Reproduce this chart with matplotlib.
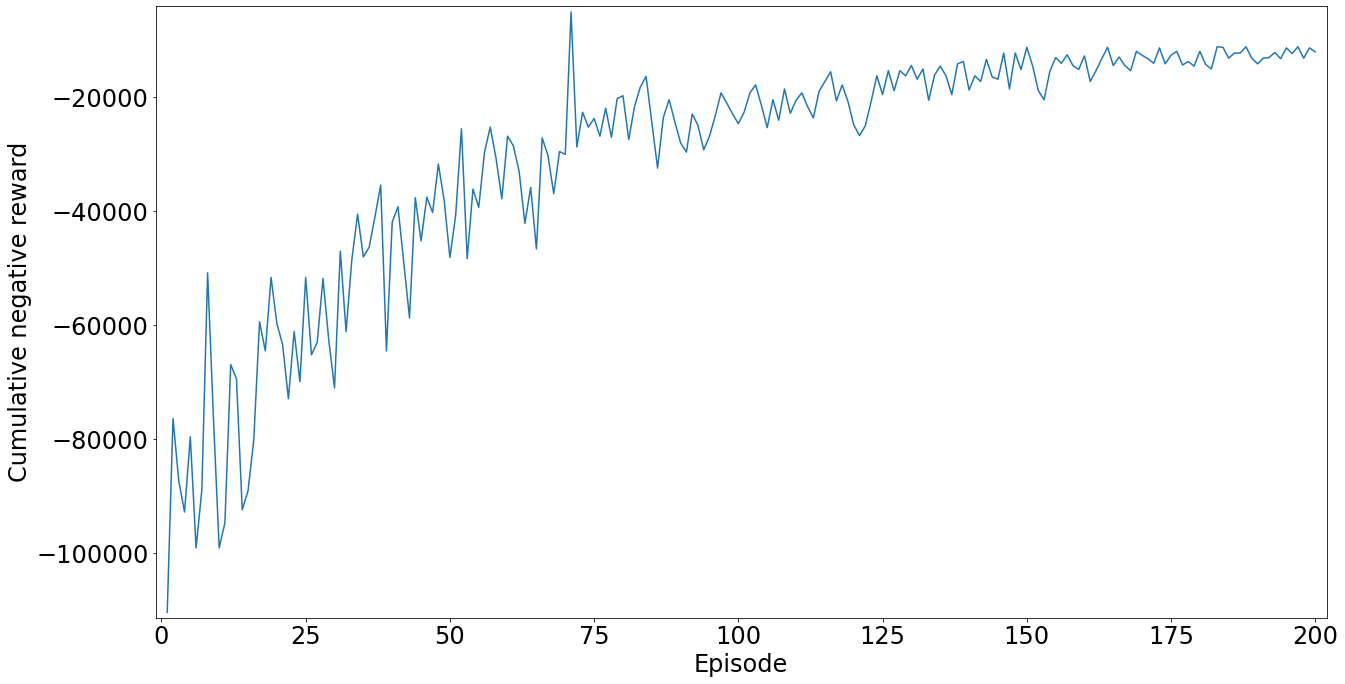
import numpy as np
import matplotlib.pyplot as plt

# episode rewards
episodes = np.arange(1, 201)
rewards = [
    -110400, -76400, -87300, -92800, -79600, -99100, -88900, -50800, -76000, -99100,
    -94700, -66900, -69400, -92400, -89100, -80200, -59400, -64500, -51600, -59700,
    -63400, -72900, -61100, -69900, -51600, -65200, -63000, -51800, -62600, -71000,
    -47000, -61100, -48500, -40500, -48000, -46300, -41000, -35400, -64500, -41900,
    -39200, -48900, -58700, -37600, -45200, -37500, -40200, -31700, -38000, -48100,
    -40700, -25500, -48300, -36100, -39300, -29600, -25200, -30700, -37800, -26800,
    -28500, -33000, -42100, -35800, -46600, -27100, -30200, -36900, -29500, -30000,
    -5000, -28700, -22600, -25200, -23700, -26800, -21900, -27000, -20200, -19700,
    -27400, -21600, -18200, -16300, -24300, -32400, -23500, -20400, -24300, -28000,
    -29600, -22900, -24900, -29200, -26800, -23200, -19200, -21000, -22900, -24600,
    -22600, -19200, -17800, -21400, -25300, -20400, -24000, -18500, -22800, -20500,
    -19200, -21600, -23600, -18900, -17200, -15500, -20600, -17800, -20700, -24800,
    -26700, -25000, -20800, -16200, -19500, -15300, -18800, -15300, -16200, -14400,
    -16800, -15000, -20500, -16100, -14500, -16200, -19500, -14100, -13700, -18700,
    -16200, -17200, -13300, -16400, -16800, -12200, -18500, -12200, -15100, -11200,
    -14400, -18800, -20400, -15400, -13000, -14000, -12500, -14400, -15100, -12700,
    -17200, -15300, -13200, -11200, -14400, -12900, -14400, -15300, -11900, -12600,
    -13200, -14000, -11300, -14100, -12600, -11900, -14300, -13700, -14500, -11900,
    -14200, -15000, -11100, -11200, -13100, -12200, -12200, -11100, -13100, -14100,
    -13100, -13000, -12100, -13200, -11300, -12300, -11100, -13100, -11300, -12000,
]

fig = plt.figure(figsize=(1345 / 72, 684 / 72), dpi=72)
ax = fig.add_subplot(111)
fig.subplots_adjust(left=0.1158, right=0.9864, top=0.9912, bottom=0.0961)

ax.plot(episodes, rewards, color='#1f77b4', linewidth=1.5)
ax.margins(0.01)

ax.set_xlabel('Episode', fontsize=24)
ax.set_ylabel('Cumulative negative reward', fontsize=24)
ax.set_xticks(np.arange(0, 201, 25))
ax.tick_params(labelsize=24)

fig.savefig('out.png', dpi=72)
